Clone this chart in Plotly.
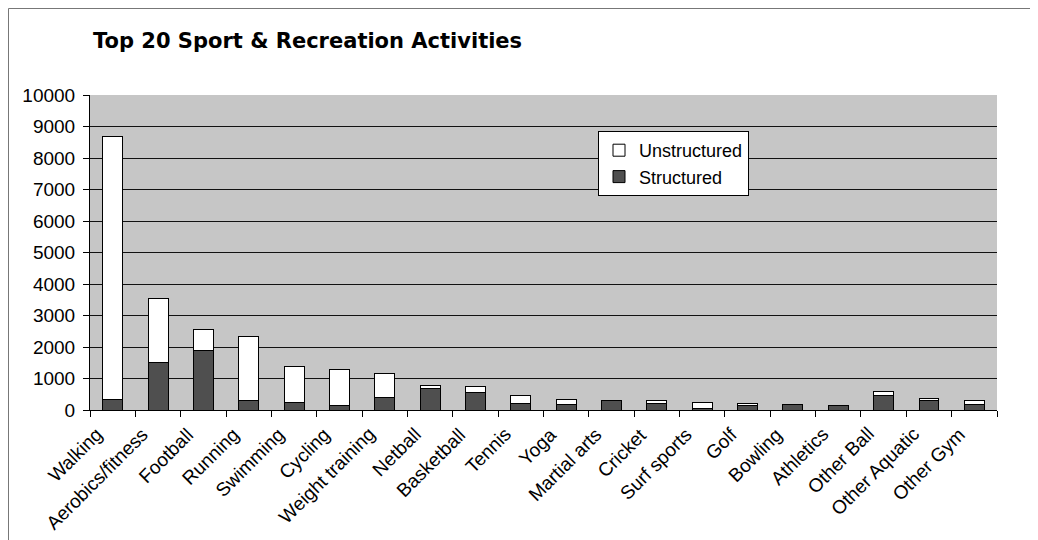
import plotly.graph_objects as go

categories = ["Walking", "Aerobics/fitness", "Football", "Running", "Swimming",
              "Cycling", "Weight training", "Netball", "Basketball", "Tennis",
              "Yoga", "Martial arts", "Cricket", "Surf sports", "Golf",
              "Bowling", "Athletics", "Other Ball", "Other Aquatic", "Other Gym"]
structured = [320, 1510, 1900, 290, 240, 130, 400, 680, 560, 210,
              180, 295, 220, 40, 130, 165, 135, 460, 290, 180]
unstructured = [8360, 2040, 650, 2050, 1130, 1160, 770, 100, 180, 260,
                150, 10, 80, 210, 70, 5, 5, 140, 80, 110]
y_ticks = [0, 1000, 2000, 3000, 4000, 5000, 6000, 7000, 8000, 9000, 10000]
y_tick_labels = ["0", "1000", "2000", "3000", "4000", "5000", "6000", "7000",
                 "8000", "9000", "10000"]

# the page body has an 8px default margin; work in screen pixels and offset
OFF = 8
SCREEN_W, SCREEN_H = 1038, 540
W, H = SCREEN_W - OFF, SCREEN_H - OFF
PLOT_L, PLOT_R, PLOT_T, PLOT_B = 90, 997, 95, 410   # screen px of plot area
ML, MT = PLOT_L - OFF, PLOT_T - OFF
MR = W - (PLOT_R - OFF)
MB = H - (PLOT_B - OFF)
PW, PH = PLOT_R - PLOT_L, PLOT_B - PLOT_T

def px2x(px):
    return (px - PLOT_L) / PW

def px2y(py):
    return (PLOT_B - py) / PH

fig = go.Figure()
fig.add_trace(go.Bar(
    name="Structured", x=categories, y=structured,
    marker=dict(color="#4f4f4f", line=dict(color="black", width=1)),
))
fig.add_trace(go.Bar(
    name="Unstructured", x=categories, y=unstructured,
    marker=dict(color="white", line=dict(color="black", width=1)),
))

# rotated category labels
label_annotations = [
    dict(x=i, y=px2y(421), xref="x", yref="paper", text=c, textangle=-45,
         xanchor="right", yanchor="top", showarrow=False, xshift=-3,
         font=dict(size=19, color="black"))
    for i, c in enumerate(categories)
]

fig.update_layout(
    width=W, height=H,
    margin=dict(l=ML, r=MR, t=MT, b=MB, autoexpand=False),
    barmode="stack", bargap=0.56,
    paper_bgcolor="white", plot_bgcolor="#c6c6c6",
    font=dict(family="Liberation Sans, Arial, sans-serif", color="black", size=19),
    title=dict(text="<b>Top 20 Sport & Recreation Activities</b>",
               x=(93 - OFF) / W, xanchor="left", xref="container",
               y=1 - (41 - OFF) / H, yanchor="middle",
               font=dict(family="DejaVu Sans, sans-serif", size=21, color="black")),
    showlegend=True,
    legend=dict(x=px2x(598), y=px2y(131), xanchor="left", yanchor="top",
                bgcolor="white", bordercolor="black", borderwidth=1,
                traceorder="reversed", font=dict(size=18),
                itemclick=False, tracegroupgap=0),
    xaxis=dict(type="category", categoryorder="array", categoryarray=categories,
               range=[-0.5, len(categories) - 0.5],
               showline=True, linecolor="black", linewidth=1,
               ticks="outside", ticklen=6, tickcolor="black", tickson="boundaries",
               showticklabels=False, showgrid=False, automargin=False),
    yaxis=dict(range=[0, 10000], tickvals=y_ticks, ticktext=y_tick_labels,
               showline=True, linecolor="black",
               linewidth=1, ticks="outside", ticklen=6, tickcolor="black",
               showgrid=True, gridcolor="#111111", gridwidth=1.3,
               zeroline=False, tickfont=dict(size=19), ticklabelstandoff=4,
               automargin=False),
    annotations=label_annotations,
)

# outer chart border (top and left edges visible in the reference)
fig.add_shape(type="rect", xref="paper", yref="paper",
              x0=px2x(OFF + 0.5), x1=px2x(SCREEN_W + 10), y0=px2y(SCREEN_H + 10),
              y1=px2y(OFF + 0.5),
              line=dict(color="#777777", width=1), fillcolor="rgba(0,0,0,0)",
              layer="below")

fig.write_html("out.html")
